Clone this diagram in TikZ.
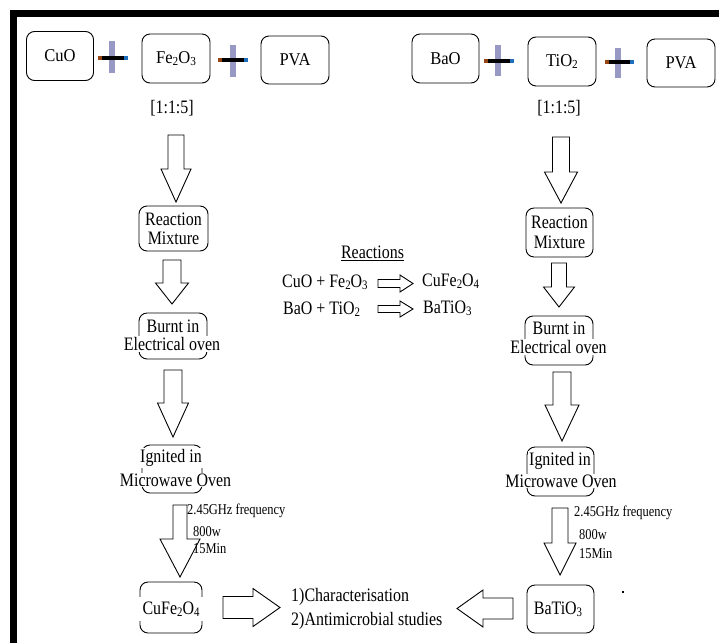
\documentclass[tikz,border=0pt]{standalone}
\usepackage{fontspec}
\setmainfont{Liberation Serif}
\usetikzlibrary{calc}
\definecolor{plusv}{RGB}{152,152,196}
\definecolor{plusl}{RGB}{150,70,20}
\definecolor{plusr}{RGB}{30,110,190}
\newcommand\cx[1]{\scalebox{0.84}[1]{#1}}
\newcommand\cxb[1]{\scalebox{0.92}[1]{#1}}
\newcommand\cxs[1]{\scalebox{0.83}[1]{#1}}
\newcommand\sbs[1]{\raisebox{-0.1em}{\scalebox{0.68}{#1}}}
\tikzset{
 rbox/.style={draw, rounded corners=8pt, line width=0.9pt, inner sep=0pt},
 big/.style={font=\fontsize{18}{20}\selectfont},
 mid/.style={font=\fontsize{19}{21}\selectfont, inner sep=1pt},
 wmid/.style={mid, fill=white},
 small/.style={font=\fontsize{15}{17}\selectfont, inner sep=0pt, anchor=west},
 blk/.style={draw, line width=0.9pt, fill=white, line join=miter},
}
% cx, top, headtop, tip, shaft half width, head half width
\newcommand\downarr[6]{%
 \draw[blk] ({#1-#5},#2) -- ({#1+#5},#2) -- ({#1+#5},#3) -- ({#1+#6},#3) -- (#1,#4) -- ({#1-#6},#3) -- ({#1-#5},#3) -- cycle;}
% cy, start x, headbase x, tip x, shaft half width, head half width
\newcommand\horarr[6]{%
 \draw[blk] (#2,{#1-#5}) -- (#3,{#1-#5}) -- (#3,{#1-#6}) -- (#4,#1) -- (#3,{#1+#6}) -- (#3,{#1+#5}) -- (#2,{#1+#5}) -- cycle;}
% hx1, hx2, hy, vx, vy1, vy2
\newcommand\plussign[6]{%
 \fill[plusv] ({#4-2.8},#5) rectangle ({#4+2.8},#6);
 \draw[line width=4pt] (#1,#3) -- (#2,#3);
 \draw[line width=4pt, plusl] (#1,#3) -- ({#1+4},#3);
 \draw[line width=4pt, plusr] ({#2-4},#3) -- (#2,#3);}
\begin{document}
\begin{tikzpicture}[x=1pt,y=-1pt]
\useasboundingbox (0,0) rectangle (719,643);
\fill[white] (0,0) rectangle (719,643);
% frame
\fill[black] (10,10) rectangle (719,16.5);
\fill[black] (10,10) rectangle (17,643);

% ---- top row left
\node[rbox, big, minimum width=67pt, minimum height=49pt] (cuo) at (60,56) {\cxb{CuO}};
\node[rbox, big, minimum width=68pt, minimum height=49pt] (fe) at (176,58.5) {\cxb{Fe\sbs{2}O\sbs{3}}};
\node[rbox, big, minimum width=68pt, minimum height=48pt] (pva1) at (295,60) {\cxb{PVA}};
\plussign{98}{128}{58}{112}{41}{73}
\plussign{218}{248}{60}{233}{45}{77}
\node[mid] (ratio1) at (172,108) {\cx{[1:1:5]}};

% ---- top row right
\node[rbox, big, minimum width=67pt, minimum height=49pt] (bao) at (445.5,58.5) {\cxb{BaO}};
\node[rbox, big, minimum width=68pt, minimum height=49pt] (tio) at (562,61.5) {\cxb{TiO\sbs{2}}};
\node[rbox, big, minimum width=68pt, minimum height=48pt] (pva2) at (681,63) {\cxb{PVA}};
\plussign{484}{514}{61}{498}{45}{76}
\plussign{605}{634}{62}{618}{48}{78}
\node[mid] (ratio2) at (559,108) {\cx{[1:1:5]}};

% ---- left column
\downarr{176}{135}{169}{202}{8}{15}
\node[rbox, minimum width=69pt, minimum height=45pt] (rmL) at (173.5,228.5) {};
\node[mid] (rmL1) at (173.5,219) {\cx{Reaction}};
\node[mid] (rmL2) at (173.5,238) {\cx{Mixture}};
\downarr{172}{260}{283}{304}{9}{16.5}
\node[rbox, minimum width=68pt, minimum height=46pt] (bL) at (173,336) {};
\node[wmid] (bL1) at (173,326) {\cx{Burnt in}};
\node[wmid] (bL2) at (172,344) {\cx{Electrical oven}};
\downarr{173}{370}{403}{437}{9}{15.5}
\node[rbox, minimum width=60pt, minimum height=48pt] (iL) at (172,469) {};
\node[wmid] (iL1) at (171,458) {\cx{Ignited in}};
\node[wmid] (iL2) at (175.5,480) {\cx{Microwave Oven}};
\downarr{180}{505}{539}{577}{7}{20}
\node[small] (fL1) at (187,511) {\cxs{2.45GHz frequency}};
\node[small] (fL2) at (193,532) {\cxs{800w}};
\node[small] (fL3) at (193,549) {\cxs{15Min}};
\node[rbox, minimum width=62pt, minimum height=51pt] (cfL) at (171,607.5) {};
\node[mid, fill=white, minimum width=70pt, minimum height=24pt] (cfLt) at (171,609) {\cx{CuFe\sbs{2}O\sbs{4}}};

% ---- right column
\downarr{561}{137}{172}{203}{8.5}{16.5}
\node[rbox, minimum width=67pt, minimum height=49pt] (rmR) at (559.5,232.5) {};
\node[mid] (rmR1) at (559.5,222) {\cx{Reaction}};
\node[mid] (rmR2) at (559.5,242) {\cx{Mixture}};
\downarr{559}{263}{287}{307}{7.5}{15.5}
\node[rbox, minimum width=68pt, minimum height=49pt] (bR) at (559,340.5) {};
\node[wmid] (bR1) at (559,328) {\cx{Burnt in}};
\node[wmid] (bR2) at (558.5,347) {\cx{Electrical oven}};
\downarr{562}{372}{405}{441}{9}{17}
\node[rbox, minimum width=67pt, minimum height=49pt] (iR) at (560.5,471.5) {};
\node[wmid] (iR1) at (560,461) {\cx{Ignited in}};
\node[wmid] (iR2) at (561,481) {\cx{Microwave Oven}};
\downarr{560}{508}{543}{575}{8}{16}
\node[small] (fR1) at (574,513) {\cxs{2.45GHz frequency}};
\node[small] (fR2) at (579,535) {\cxs{800w}};
\node[small] (fR3) at (579,554) {\cxs{15Min}};
\node[rbox, minimum width=67pt, minimum height=48pt] (btR) at (560.5,609) {};
\node[mid, fill=white, minimum height=14pt] (btRt) at (558,609) {\cx{BaTiO\sbs{3}}};
\fill[black] (622,591) rectangle (624,593);

% ---- centre reactions
\node[mid] (reac) at (372.5,253) {\cx{\underline{Reactions}}};
\node[mid, anchor=west, inner sep=0pt] (eq1a) at (282,282) {\cx{CuO + Fe\sbs{2}O\sbs{3}}};
\horarr{283.5}{378}{400}{413}{4}{8.5}
\node[mid, anchor=west, inner sep=0pt] (eq1b) at (422,281) {\cx{CuFe\sbs{2}O\sbs{4}}};
\node[mid, anchor=west, inner sep=0pt] (eq2a) at (283,309) {\cx{BaO + TiO\sbs{2}}};
\horarr{309}{378}{400}{413}{3.5}{8}
\node[mid, anchor=west, inner sep=0pt] (eq2b) at (423,308) {\cx{BaTiO\sbs{3}}};

% ---- bottom
\horarr{607.5}{223}{253}{280}{11}{19}
\node[mid, anchor=west, inner sep=0pt] (out1) at (291,597) {\cx{1)Characterisation}};
\node[mid, anchor=west, inner sep=0pt] (out2) at (291,621) {\cx{2)Antimicrobial studies}};
\horarr{608.5}{513}{483}{457}{10.5}{18.5}
\end{tikzpicture}
\end{document}
